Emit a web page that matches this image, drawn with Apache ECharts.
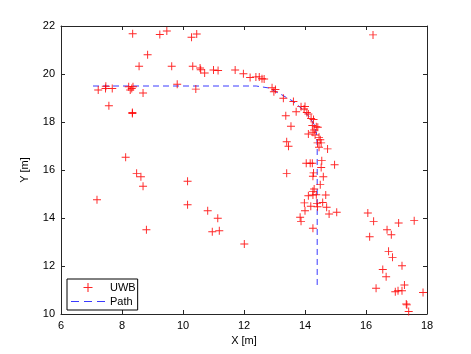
<!DOCTYPE html>
<html>
<head>
    <meta charset="utf-8">
    <title>UWB vs Path</title>
    <script src="https://cdn.jsdelivr.net/npm/echarts@6/dist/echarts.min.js"></script>
    <style>
        *{ padding: 0; margin: 0; }
        html, body{ width: 100%; height: 100%; background: #fff; }
        #main{ width: 471px; height: 354px; }
    </style>
</head>
<body>
<div id="main"></div>
<script>
    // UWB measurements (x, y in metres)
    var uwbX = [7.18,7.22,7.47,7.46,7.68,7.57,8.22,8.27,8.36,8.32,8.34,8.34,8.12,8.35,8.84,8.56,8.69,9.24,9.47,9.63,
                9.81,10.28,10.45,10.32,10.42,10.56,10.58,10.71,11.00,11.15,11.71,11.98,12.20,12.39,12.50,12.59,12.66,16.23,12.92,13.03,
                12.98,13.29,13.62,13.71,13.37,13.87,14.00,13.97,14.06,14.11,14.20,14.28,13.54,14.24,14.37,14.42,14.30,14.26,14.11,14.33,
                14.46,14.50,14.41,14.53,13.40,13.46,14.46,14.74,14.55,14.04,14.17,14.24,14.97,14.53,13.40,14.28,14.26,14.60,14.50,14.30,
                14.26,14.11,14.26,14.37,14.68,13.98,14.19,14.39,14.41,14.58,14.71,14.00,14.79,15.04,13.84,13.87,14.26,16.06,16.25,16.12,
                16.69,16.83,17.07,17.58,16.74,16.87,17.18,16.55,16.66,17.26,16.33,17.05,16.96,17.18,17.87,17.32,17.34,17.40,12.01,8.48,
                8.62,8.69,8.80,10.15,10.15,10.81,11.14,10.96,11.19];
    var uwbY = [14.76,19.33,19.49,19.40,19.40,18.68,19.47,19.33,19.47,19.40,18.40,18.35,16.53,21.68,20.80,20.32,19.21,21.65,21.79,20.32,
                19.57,21.53,21.67,20.32,19.37,20.25,20.18,20.04,20.17,20.15,20.17,20.01,19.85,19.88,19.88,19.80,19.79,21.63,19.43,19.35,
                19.26,18.99,18.85,18.43,18.26,18.64,18.65,18.54,18.40,18.33,18.15,18.10,17.82,17.85,17.80,17.78,17.67,17.57,17.50,17.46,
                17.36,17.26,17.13,17.13,17.18,16.99,16.95,16.88,16.39,16.28,16.28,16.28,16.22,16.10,15.86,15.88,15.74,15.72,15.39,15.21,
                15.11,14.93,14.96,14.97,14.96,14.63,14.49,14.61,14.47,14.65,14.45,14.30,14.17,14.24,14.03,13.86,13.57,14.21,13.86,13.22,
                13.51,13.30,13.79,13.89,12.61,12.36,12.01,11.85,11.55,11.21,11.07,10.97,10.93,10.97,10.90,10.42,10.38,10.10,12.92,15.86,
                15.72,15.32,13.51,15.53,14.55,14.30,13.99,13.43,13.47];

    // reference path
    var pathX = [7.05,12.40,12.80,13.20,13.60,13.90,14.15,14.30,14.38,14.40,14.40];
    var pathY = [19.50,19.50,19.42,19.16,18.87,18.55,18.20,17.90,17.50,17.00,11.10];

    var xTicks = [6,8,10,12,14,16,18];
    var yTicks = [10,12,14,16,18,20,22];

    function pairs(a, b){
        var out = [];
        for(var i = 0; i < a.length; i++) out.push([a[i], b[i]]);
        return out;
    }

    var plus = 'path://M4.4,0H5.6V4.4H10V5.6H5.6V10H4.4V5.6H0V4.4H4.4Z';
    // three dashes, with an empty stroke to keep the 34x9 box
    var dashIcon = 'path://M0,0L0,9Z M0,4H8V5H0Z M13,4H21V5H13Z M26,4H34V5H26Z';
    var font = 'Liberation Sans, Arial, sans-serif';
    var axisColor = '#262626';
    var pathColor = '#3a3aff';

    function axis(pos, ticks, showLabel, name){
        return {
            type: 'value',
            position: pos,
            min: ticks[0],
            max: ticks[ticks.length - 1],
            interval: 2,
            name: name || '',
            nameLocation: 'middle',
            nameGap: (pos === 'left') ? 31 : 20,
            nameTextStyle: { color: '#000', fontSize: 11, fontFamily: font },
            axisLine: { show: true, onZero: false, lineStyle: { color: axisColor, width: 1 } },
            axisTick: { show: true, inside: true, length: 4, lineStyle: { color: axisColor } },
            axisLabel: { show: showLabel, color: '#000', fontSize: 11, fontFamily: font, margin: 6 },
            splitLine: { show: false }
        };
    }

    var myChart = echarts.init(document.getElementById('main'));
    myChart.setOption({
        animation: false,
        backgroundColor: '#fff',
        grid: { left: 61, right: 44, top: 26, bottom: 40 },
        xAxis: [ axis('bottom', xTicks, true, 'X [m]'), axis('top', xTicks, false) ],
        yAxis: [ axis('left', yTicks, true, 'Y [m]'), axis('right', yTicks, false) ],
        legend: {
            orient: 'vertical',
            left: 67,
            top: 279,
            itemWidth: 34,
            itemHeight: 9,
            itemGap: 3,
            padding: [3, 2, 3, 4],
            borderColor: '#000',
            borderWidth: 1,
            backgroundColor: '#fff',
            textStyle: { color: '#000', fontSize: 11, fontFamily: font },
            data: [
                { name: 'UWB', icon: plus, itemStyle: { color: '#ff0000' } },
                { name: 'Path', icon: dashIcon, itemStyle: { color: pathColor } }
            ]
        },
        series: [
            {
                name: 'UWB',
                type: 'scatter',
                data: pairs(uwbX, uwbY),
                symbol: plus,
                symbolSize: 8,
                itemStyle: { color: '#ff0000', opacity: 0.85 },
                z: 3
            },
            {
                name: 'Path',
                type: 'line',
                data: pairs(pathX, pathY),
                showSymbol: false,
                symbol: 'none',
                lineStyle: { color: pathColor, width: 1, type: [6, 4] },
                z: 2
            }
        ]
    });
</script>
</body>
</html>
